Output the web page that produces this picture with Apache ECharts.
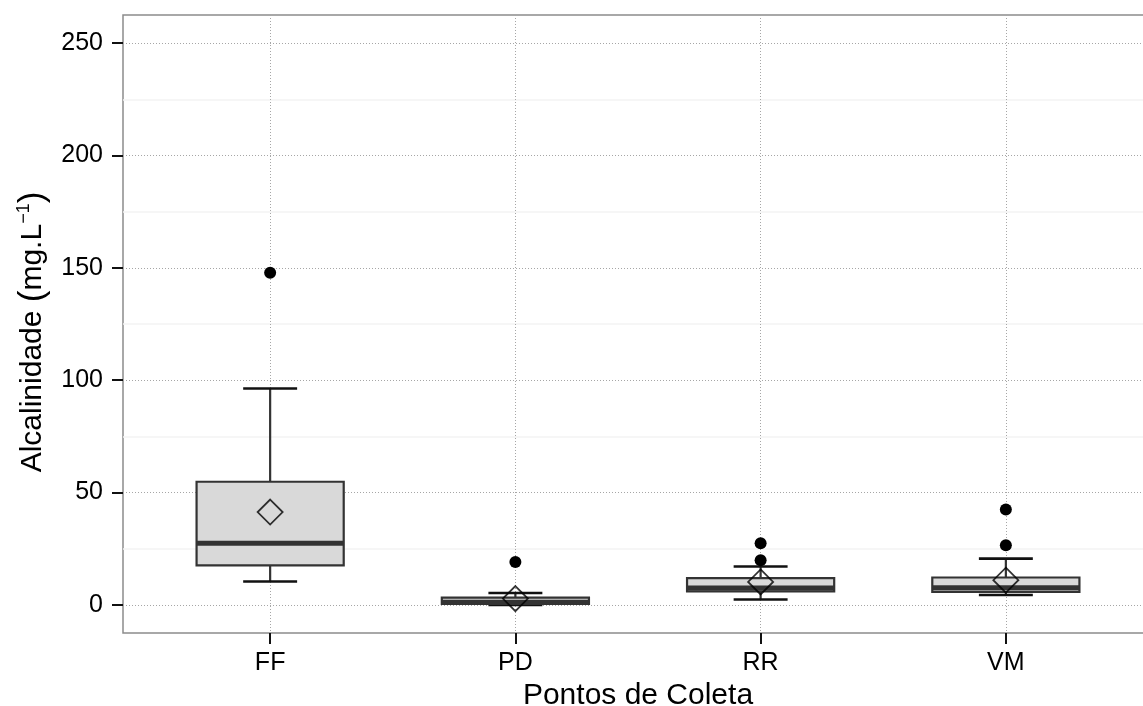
<!DOCTYPE html>
<html>
<head>
<meta charset="utf-8">
<script src="https://cdn.jsdelivr.net/npm/echarts@6/dist/echarts.min.js"></script>
<style>
html,body{margin:0;padding:0;background:#fff;}
#chart{width:1143px;height:706px;}
</style>
</head>
<body>
<div id="chart"></div>
<script>
// ---- data ----
const categories = ['FF', 'PD', 'RR', 'VM'];
const lowerWhisker = [10.4, 0.0, 2.4, 4.4];
const q1Values = [17.6, 0.4, 6.0, 5.8];
const medianValues = [27.4, 1.2, 7.5, 7.6];
const q3Values = [54.8, 3.2, 11.9, 12.2];
const upperWhisker = [96.3, 5.3, 17.1, 20.6];
const meanValues = [41.3, 2.8, 10.2, 11.0];
const outlierCategory = [0, 1, 2, 2, 3, 3];
const outlierValues = [147.8, 19.1, 19.9, 27.4, 26.5, 42.5];
const yTickValues = [0, 50, 100, 150, 200, 250];
const yMinorValues = [25, 75, 125, 175, 225];
const xTickValues = [1, 2, 3, 4];

const FONT = '"Liberation Sans", Arial, sans-serif';
const BOX_W = 0.6;
const CAP_W = 0.22;

const boxData = categories.map((c, i) => [i + 1, lowerWhisker[i], q1Values[i], medianValues[i], q3Values[i], upperWhisker[i]]);
const meanData = categories.map((c, i) => [i + 1, meanValues[i]]);
const outlierData = outlierValues.map((v, i) => [outlierCategory[i] + 1, v]);

const chart = echarts.init(document.getElementById('chart'), null, {renderer: 'canvas'});

function renderBox(params, api) {
  const x = api.value(0);
  const lo = api.value(1), q1 = api.value(2), med = api.value(3), q3 = api.value(4), hi = api.value(5);
  const pLo = api.coord([x, lo]), pHi = api.coord([x, hi]);
  const pQ1 = api.coord([x, q1]), pQ3 = api.coord([x, q3]), pMed = api.coord([x, med]);
  const bl = api.coord([x - BOX_W / 2, med])[0], br = api.coord([x + BOX_W / 2, med])[0];
  const cl = api.coord([x - CAP_W / 2, med])[0], cr = api.coord([x + CAP_W / 2, med])[0];
  const cx = pLo[0];
  const children = [
    {type: 'line', shape: {x1: cx, y1: pLo[1], x2: cx, y2: pHi[1]}, style: {stroke: '#333', lineWidth: 2.2}},
    {type: 'line', shape: {x1: cl, y1: pLo[1], x2: cr, y2: pLo[1]}, style: {stroke: '#111', lineWidth: 2.6}},
    {type: 'line', shape: {x1: cl, y1: pHi[1], x2: cr, y2: pHi[1]}, style: {stroke: '#111', lineWidth: 2.6}},
    {type: 'rect', shape: {x: bl, y: pQ3[1], width: br - bl, height: pQ1[1] - pQ3[1]},
      style: {fill: '#d9d9d9', stroke: '#333', lineWidth: 2.2}},
    {type: 'line', shape: {x1: bl, y1: pMed[1], x2: br, y2: pMed[1]}, style: {stroke: '#333', lineWidth: 5}}
  ];
  return {type: 'group', children: children};
}

const option = {
  backgroundColor: '#ffffff',
  animation: false,
  grid: {
    left: 123, top: 15, right: -10, bottom: 73,
    show: true, borderColor: '#8c8c8c', borderWidth: 1.5, backgroundColor: '#ffffff',
    containLabel: false, outerBoundsMode: 'none'
  },
  xAxis: {
    type: 'value', min: 0.4, max: 4.6,
    name: 'Pontos de Coleta', nameLocation: 'middle', nameGap: 44,
    nameTextStyle: {fontFamily: FONT, fontSize: 30, color: '#000'},
    axisLine: {show: false, onZero: false},
    axisTick: {show: true, customValues: xTickValues, length: 11, lineStyle: {color: '#111', width: 2}},
    axisLabel: {
      customValues: xTickValues, margin: 18, fontFamily: FONT, fontSize: 25, color: '#000',
      formatter: v => categories[Math.round(v) - 1] || ''
    },
    splitLine: {show: true, lineStyle: {color: '#a6a6a6', width: 1, type: [1, 2]}}
  },
  yAxis: [
    {
      type: 'value', min: -12.5, max: 262.5,
      name: '{t|Alcalinidade }{p|(}{t|mg.L}{sup|−1}{p|)}', nameLocation: 'middle', nameGap: 70,
      nameTextStyle: {
        fontFamily: FONT, fontSize: 30, color: '#000', padding: [0, 16, 0, 0],
        rich: {
          t: {fontFamily: FONT, fontSize: 30, color: '#000'},
          p: {fontFamily: FONT, fontSize: 35, color: '#000'},
          sup: {fontFamily: FONT, fontSize: 18, color: '#000', verticalAlign: 'top', padding: [0, 0, 16, 0]}
        }
      },
      axisLine: {show: false, onZero: false},
      axisTick: {show: true, customValues: yTickValues, length: 11, lineStyle: {color: '#111', width: 2}},
      axisLabel: {customValues: yTickValues, margin: 20, fontFamily: FONT, fontSize: 25, color: '#000'},
      splitLine: {show: true, lineStyle: {color: '#a6a6a6', width: 1, type: [1, 2]}}
    },
    {
      type: 'value', min: -12.5, max: 262.5, position: 'left',
      axisLine: {show: false, onZero: false},
      axisTick: {show: true, customValues: yMinorValues, length: 0, lineStyle: {color: 'rgba(0,0,0,0)', width: 0}},
      axisLabel: {show: false, customValues: yMinorValues},
      splitLine: {show: true, lineStyle: {color: '#f3f3f3', width: 1.5, type: 'solid'}}
    }
  ],
  series: [
    {
      type: 'custom', name: 'box', xAxisIndex: 0, yAxisIndex: 0,
      renderItem: renderBox,
      encode: {x: 0, y: [1, 2, 3, 4, 5]},
      data: boxData, z: 3
    },
    {
      type: 'scatter', name: 'mean', data: meanData, symbol: 'diamond', symbolSize: [25, 25],
      itemStyle: {color: 'rgba(0,0,0,0)', borderColor: '#000', borderWidth: 1.8}, z: 5
    },
    {
      type: 'scatter', name: 'outliers', data: outlierData, symbol: 'circle', symbolSize: 12,
      itemStyle: {color: '#000', opacity: 1}, z: 4
    }
  ]
};
chart.setOption(option);
</script>
</body>
</html>
